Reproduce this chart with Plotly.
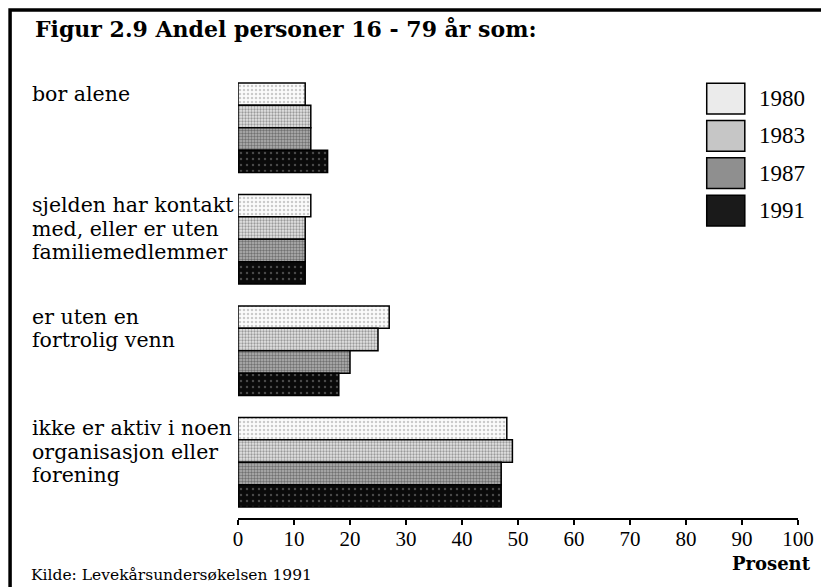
import plotly.graph_objects as go

# data (percent)
categories = ["bor alene", "sjelden", "fortrolig", "ikke aktiv"]
label_lines = [
    ["bor alene"],
    ["sjelden har kontakt", "med, eller er uten", "familiemedlemmer"],
    ["er uten en", "fortrolig venn"],
    ["ikke er aktiv i noen", "organisasjon eller", "forening"],
]
years = ["1980", "1983", "1987", "1991"]
values_1980 = [12, 13, 27, 48]
values_1983 = [13, 12, 25, 49]
values_1987 = [13, 12, 20, 47]
values_1991 = [16, 12, 18, 47]
tick_values = [0, 10, 20, 30, 40, 50, 60, 70, 80, 90, 100]

series = [values_1980, values_1983, values_1987, values_1991]

# look of each year: background, dot colour, dot size, dot solidity, legend tone
styles = [
    dict(bg="#fbfbfb", fg="#9a9a9a", size=4, solidity=0.3, tone="#ebebeb"),
    dict(bg="#e4e4e4", fg="#505050", size=3, solidity=0.45, tone="#c6c6c6"),
    dict(bg="#b4b4b4", fg="#2e2e2e", size=3, solidity=0.5, tone="#8f8f8f"),
    dict(bg="#0a0a0a", fg="#8a8a8a", size=6, solidity=0.12, tone="#1a1a1a"),
]

serif = "DejaVu Serif"
digits = "Liberation Serif"

fig = go.Figure()
for year, vals, st in zip(years, series, styles):
    fig.add_trace(go.Bar(
        y=categories, x=vals, name=year, orientation="h",
        marker=dict(
            color=st["bg"],
            line=dict(color="black", width=1.5),
            pattern=dict(shape=".", bgcolor=st["bg"], fgcolor=st["fg"],
                         size=st["size"], solidity=st["solidity"]),
        ),
        showlegend=False,
    ))

annotations = []
# category labels, one annotation per line so the leading stays tight
for cat, lines in zip(categories, label_lines):
    for i, line in enumerate(lines):
        annotations.append(dict(
            x=-0.372, xref="paper", y=cat, yref="y",
            text=line, showarrow=False, xanchor="left", yanchor="middle",
            yshift=34 - 23.3 * i,
            font=dict(family=serif, size=20.5, color="black"),
        ))

# legend boxes and labels
shapes = []
for i, (year, st) in enumerate(zip(years, styles)):
    y_top = 0.975 - 0.0837 * i
    shapes.append(dict(
        type="rect", xref="paper", yref="paper",
        x0=0.837, x1=0.905, y0=y_top - 0.069, y1=y_top,
        fillcolor=st["tone"], line=dict(color="black", width=1.5),
    ))
    annotations.append(dict(
        x=0.927, xref="paper", y=y_top - 0.0345, yref="paper",
        text=year, showarrow=False, xanchor="left", yanchor="middle",
        font=dict(family=digits, size=23, color="black"),
    ))

# frame around the whole figure (right and bottom run off the page)
shapes.append(dict(
    type="rect", xref="paper", yref="paper",
    x0=-0.407, x1=1.1, y0=-0.25, y1=1.139,
    line=dict(color="black", width=3.5), layer="below",
))

annotations += [
    dict(x=-0.366, xref="paper", y=1.096, yref="paper",
         text="<b>Figur 2.9 Andel personer 16 - 79 år som:</b>",
         showarrow=False, xanchor="left", yanchor="middle",
         font=dict(family=serif, size=22, color="black")),
    dict(x=1.027, xref="paper", y=-0.103, yref="paper",
         text="<b>Prosent</b>", showarrow=False,
         xanchor="right", yanchor="middle",
         font=dict(family=serif, size=18, color="black")),
    dict(x=-0.373, xref="paper", y=-0.128, yref="paper",
         text="Kilde: Levekårsundersøkelsen 1991", showarrow=False,
         xanchor="left", yanchor="middle",
         font=dict(family=serif, size=15.5, color="black")),
]

fig.update_xaxes(
    range=[0, 100], tickvals=tick_values, ticks="outside", ticklen=5,
    tickwidth=1.5, tickcolor="black", showline=True, linecolor="black",
    linewidth=2, showgrid=False, zeroline=False, ticklabelstandoff=-4,
    tickfont=dict(family=digits, size=21, color="black"),
)
fig.update_yaxes(
    categoryorder="array", categoryarray=categories, autorange="reversed",
    showticklabels=False, showgrid=False, zeroline=False, showline=False,
    ticks="",
)
# page has an 8px body margin, so the figure is 8px smaller each way
fig.update_layout(
    width=821, height=579,
    margin=dict(l=230, r=31, t=64, b=69),
    barmode="group", bargap=0.196, bargroupgap=0,
    plot_bgcolor="white", paper_bgcolor="white",
    shapes=shapes, annotations=annotations,
)

fig.write_html("out.html")
